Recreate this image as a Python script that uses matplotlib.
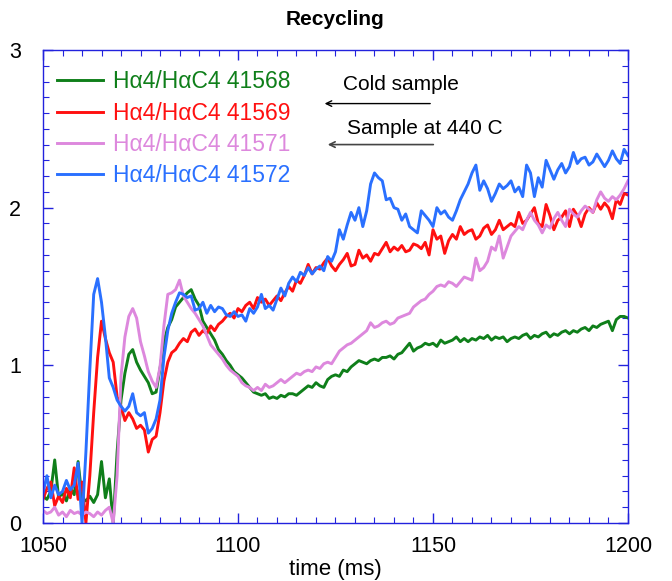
import numpy as np
import matplotlib.pyplot as plt
from matplotlib.ticker import MultipleLocator

plt.rcParams['font.family'] = ['Liberation Sans', 'DejaVu Sans']

# time axis, 1 ms steps
time_ms = np.arange(1050, 1201)

# H-alpha ratio traces
h_41568 = [
    0.17, 0.15, 0.20, 0.40, 0.16, 0.19, 0.14, 0.22, 0.18, 0.39,
    0.16, 0.14, 0.17, 0.13, 0.18, 0.39, 0.16, 0.28, 0.00, 0.45,
    0.78, 0.95, 1.07, 1.10, 1.02, 0.97, 0.93, 0.89, 0.82, 0.83,
    0.98, 1.15, 1.24, 1.29, 1.37, 1.40, 1.43, 1.46, 1.48, 1.42,
    1.38, 1.28, 1.24, 1.20, 1.16, 1.10, 1.07, 1.03, 1.00, 0.96,
    0.94, 0.92, 0.89, 0.86, 0.83, 0.82, 0.81, 0.82, 0.79, 0.80,
    0.79, 0.81, 0.80, 0.82, 0.82, 0.81, 0.83, 0.85, 0.87, 0.86,
    0.89, 0.87, 0.86, 0.91, 0.93, 0.94, 0.93, 0.97, 0.96, 0.99,
    1.01, 1.03, 1.02, 1.01, 1.03, 1.04, 1.03, 1.05, 1.05, 1.06,
    1.04, 1.07, 1.08, 1.11, 1.14, 1.09, 1.11, 1.12, 1.14, 1.13,
    1.14, 1.12, 1.16, 1.14, 1.15, 1.16, 1.18, 1.15, 1.17, 1.15,
    1.17, 1.16, 1.18, 1.17, 1.19, 1.16, 1.18, 1.17, 1.18, 1.15,
    1.17, 1.18, 1.17, 1.19, 1.20, 1.17, 1.19, 1.18, 1.20, 1.21,
    1.18, 1.20, 1.19, 1.21, 1.22, 1.20, 1.22, 1.21, 1.23, 1.24,
    1.22, 1.25, 1.24, 1.26, 1.27, 1.28, 1.22, 1.29, 1.31, 1.31,
    1.30,
]

h_41569 = [
    0.15, 0.22, 0.26, 0.11, 0.17, 0.13, 0.22, 0.16, 0.35, 0.15,
    0.26, 0.00, 0.30, 0.70, 1.05, 1.28, 1.17, 1.08, 1.02, 0.80,
    0.74, 0.65, 0.70, 0.66, 0.60, 0.62, 0.59, 0.45, 0.53, 0.55,
    0.70, 0.90, 1.02, 1.08, 1.10, 1.14, 1.17, 1.15, 1.21, 1.23,
    1.19, 1.22, 1.20, 1.25, 1.22, 1.26, 1.28, 1.31, 1.33, 1.30,
    1.36, 1.34, 1.38, 1.40, 1.36, 1.43, 1.40, 1.42, 1.38, 1.41,
    1.44, 1.41, 1.46, 1.50, 1.47, 1.54, 1.52, 1.57, 1.64, 1.58,
    1.62, 1.61, 1.65, 1.68, 1.63, 1.60, 1.64, 1.67, 1.71, 1.63,
    1.64, 1.73, 1.68, 1.70, 1.66, 1.71, 1.70, 1.74, 1.78, 1.72,
    1.75, 1.73, 1.76, 1.72, 1.73, 1.77, 1.76, 1.74, 1.78, 1.70,
    1.86, 1.80, 1.82, 1.71, 1.79, 1.83, 1.80, 1.88, 1.83, 1.85,
    1.86, 1.80, 1.82, 1.87, 1.89, 1.83, 1.86, 1.92, 1.86, 1.88,
    1.90, 1.88, 1.97, 1.90, 1.92, 1.96, 2.00, 1.90, 1.88, 2.02,
    1.95, 1.86, 1.92, 1.94, 1.98, 1.88, 1.99, 1.95, 1.88, 1.96,
    2.00, 1.97, 2.03, 1.99, 2.03, 2.00, 1.93, 2.05, 2.02, 2.09,
    2.08,
]

h_41571 = [
    0.08, 0.06, 0.07, 0.10, 0.05, 0.07, 0.04, 0.08, 0.06, 0.07,
    0.05, 0.07, 0.06, 0.04, 0.07, 0.05, 0.08, 0.10, 0.00, 0.30,
    0.93, 1.18, 1.31, 1.36, 1.30, 1.15, 1.06, 0.96, 0.90, 0.86,
    0.99, 1.25, 1.45, 1.46, 1.48, 1.54, 1.44, 1.40, 1.36, 1.33,
    1.29, 1.25, 1.19, 1.13, 1.10, 1.07, 1.04, 1.00, 0.97, 0.95,
    0.93, 0.89, 0.87, 0.86, 0.84, 0.86, 0.84, 0.88, 0.86, 0.87,
    0.89, 0.91, 0.89, 0.91, 0.93, 0.95, 0.94, 0.96, 0.97, 0.96,
    0.99, 0.98, 1.01, 1.02, 1.01, 1.05, 1.09, 1.11, 1.13, 1.14,
    1.16, 1.18, 1.20, 1.22, 1.27, 1.24, 1.25, 1.27, 1.28, 1.26,
    1.27, 1.30, 1.31, 1.32, 1.33, 1.37, 1.39, 1.41, 1.42, 1.45,
    1.47, 1.50, 1.51, 1.50, 1.53, 1.52, 1.50, 1.53, 1.56, 1.55,
    1.54, 1.68, 1.60, 1.62, 1.66, 1.75, 1.73, 1.82, 1.68, 1.75,
    1.82, 1.85, 1.88, 1.86, 1.92, 1.97, 1.92, 1.89, 1.84, 1.89,
    1.87, 1.93, 1.97, 1.92, 1.88, 1.99, 1.96, 1.94, 1.98, 2.01,
    1.99, 1.97, 2.05, 2.10, 2.06, 2.04, 2.07, 2.05, 2.08, 2.12,
    2.17,
]

h_41572 = [
    0.19, 0.30, 0.16, 0.24, 0.18, 0.20, 0.27, 0.21, 0.24, 0.38,
    0.00, 0.45, 0.97, 1.45, 1.55, 1.40, 1.18, 0.92, 0.86, 0.78,
    0.74, 0.71, 0.74, 0.82, 0.70, 0.68, 0.70, 0.57, 0.60, 0.66,
    0.78, 1.05, 1.22, 1.33, 1.40, 1.46, 1.45, 1.43, 1.44, 1.35,
    1.36, 1.40, 1.33, 1.38, 1.34, 1.37, 1.36, 1.32, 1.31, 1.34,
    1.31, 1.32, 1.28, 1.36, 1.33, 1.37, 1.45, 1.36, 1.38, 1.35,
    1.42, 1.49, 1.44, 1.52, 1.56, 1.53, 1.59, 1.57, 1.62, 1.58,
    1.61, 1.63, 1.60, 1.69, 1.66, 1.72, 1.86, 1.80, 1.89, 1.97,
    1.92, 2.00, 1.88, 1.98, 2.15, 2.22, 2.19, 2.17, 2.05, 2.06,
    2.00, 1.99, 1.92, 1.96, 1.88, 1.86, 1.84, 1.98, 1.95, 1.92,
    1.88, 2.00, 1.96, 1.98, 1.94, 1.92, 1.98, 2.05, 2.10, 2.15,
    2.22, 2.27, 2.11, 2.17, 2.12, 2.04, 2.09, 2.15, 2.12, 2.14,
    2.17, 2.10, 2.13, 2.07, 2.27, 2.22, 2.07, 2.19, 2.13, 2.30,
    2.24, 2.18, 2.24, 2.28, 2.22, 2.26, 2.35, 2.28, 2.31, 2.32,
    2.27, 2.29, 2.34, 2.30, 2.26, 2.30, 2.36, 2.31, 2.28, 2.37,
    2.33,
]

labels = ['H\u03b14/H\u03b1C4 41568', 'H\u03b14/H\u03b1C4 41569',
          'H\u03b14/H\u03b1C4 41571', 'H\u03b14/H\u03b1C4 41572']
colors = ['#0f7f1a', '#ff1010', '#dd88dd', '#2a70ff']

fig = plt.figure(figsize=(6.72, 5.81), dpi=100)
ax = fig.add_axes([0.064, 0.0998, 0.8705, 0.8142])

for series, lab, col in zip([h_41568, h_41569, h_41571, h_41572], labels, colors):
    ax.plot(time_ms, series, color=col, lw=2.1, label=lab)

ax.set_xlim(1050, 1200)
ax.set_ylim(0, 3)
ax.xaxis.set_major_locator(MultipleLocator(50))
ax.xaxis.set_minor_locator(MultipleLocator(5))
ax.yaxis.set_major_locator(MultipleLocator(1))
ax.yaxis.set_minor_locator(MultipleLocator(0.1))

axis_blue = '#2222dd'
for sp in ax.spines.values():
    sp.set_color(axis_blue)
    sp.set_linewidth(1.0)
ax.tick_params(which='both', direction='in', top=True, right=True,
               color=axis_blue, labelsize=15.5)
ax.tick_params(which='major', length=7, width=1.0)
ax.tick_params(which='minor', length=4, width=0.8)
ax.tick_params(axis='x', pad=9)
ax.tick_params(axis='y', pad=16)

ax.set_xlabel('time (ms)', fontsize=16, labelpad=2)
ax.set_title('Recycling', fontsize=15, fontweight='bold', pad=18)

leg = ax.legend(loc='upper left', bbox_to_anchor=(0.024, 0.957), frameon=False,
                fontsize=16.5, handlelength=2.0, handletextpad=0.45,
                labelspacing=0.36, borderpad=0, borderaxespad=0,
                labelcolor='linecolor')

# annotations for the sample conditions
ax.annotate('', xy=(1121.5, 2.66), xytext=(1150, 2.66),
            arrowprops=dict(arrowstyle='->', color='black', lw=1.0))
ax.text(1127, 2.78, 'Cold sample', fontsize=15, va='center', ha='left')
ax.annotate('', xy=(1122.3, 2.40), xytext=(1150.8, 2.40),
            arrowprops=dict(arrowstyle='->', color='#444444', lw=1.2))
ax.text(1128, 2.505, 'Sample at 440 C', fontsize=15, va='center', ha='left')

plt.savefig('out.png', dpi=100)
